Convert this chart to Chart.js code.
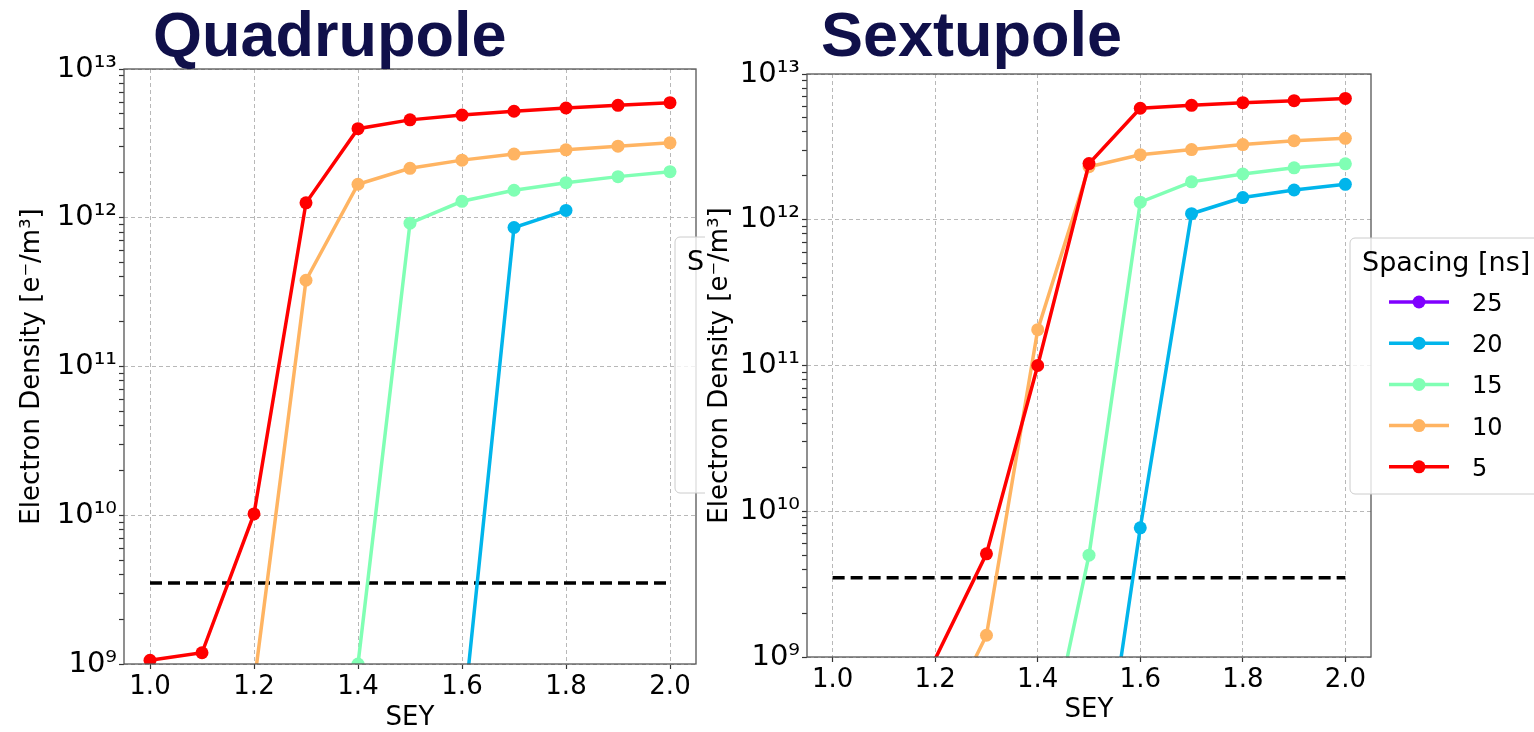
<!DOCTYPE html>
<html>
<head>
<meta charset="utf-8">
<script src="https://cdn.jsdelivr.net/npm/chart.js@4.4.0/dist/chart.umd.min.js"></script>
<style>
  body { margin: 0; background: #fff; width: 1534px; height: 732px; overflow: hidden; position: relative; }
  canvas { position: absolute; top: 0; }
  .title { position: absolute; top: 3px; font: bold 63px "Liberation Sans", Arial, sans-serif; color: #10104a; line-height: 63px; white-space: nowrap; }
</style>
</head>
<body>
<canvas id="quadChart" width="705" height="732" style="left:0px"></canvas>
<canvas id="sextChart" width="829" height="732" style="left:705px"></canvas>
<div class="title" style="left:153px">Quadrupole</div>
<div class="title" style="left:821px">Sextupole</div>
<script>
// x values (SEY) and legend
const sey = [1.0, 1.1, 1.2, 1.3, 1.4, 1.5, 1.6, 1.7, 1.8, 1.9, 2.0];
const spacings = ['25', '20', '15', '10', '5'];
const colors = ['#8000ff', '#01b5eb', '#80ffb4', '#ffb462', '#ff0000'];
const xTicks = [1.0, 1.2, 1.4, 1.6, 1.8, 2.0];
const threshold = 3.5e9;

// Quadrupole electron density [e-/m^3], null = not plotted
const quad25 = [null, null, null, null, null, null, null, null, null, null, null];
const quad20 = [null, null, null, null, null, null, 3.6e8, 8.6e11, 1.12e12, null, null];
const quad15 = [null, null, null, null, 1.0e9, 9.2e11, 1.29e12, 1.53e12, 1.72e12, 1.89e12, 2.04e12];
const quad10 = [null, null, 7.3e8, 3.8e11, 1.68e12, 2.15e12, 2.44e12, 2.68e12, 2.86e12, 3.03e12, 3.19e12];
const quad5 = [1.06e9, 1.19e9, 1.02e10, 1.26e12, 3.97e12, 4.55e12, 4.9e12, 5.2e12, 5.47e12, 5.7e12, 5.94e12];

// Sextupole
const sext25 = [null, null, null, null, null, null, null, null, null, null, null];
const sext20 = [null, null, null, null, null, 3.2e7, 7.7e9, 1.10e12, 1.42e12, 1.60e12, 1.75e12];
const sext15 = [null, null, null, null, 1.1e8, 5.0e9, 1.32e12, 1.82e12, 2.06e12, 2.27e12, 2.42e12];
const sext10 = [null, null, 2.7e8, 1.41e9, 1.76e11, 2.31e12, 2.79e12, 3.03e12, 3.28e12, 3.49e12, 3.62e12];
const sext5 = [null, null, 9.7e8, 5.1e9, 1.0e11, 2.43e12, 5.82e12, 6.1e12, 6.36e12, 6.56e12, 6.8e12];

const xMin = 0.95, xMax = 2.05, yMin = 1e9, yMax = 1e13;
const sup = {'0': '\u2070', '1': '\u00b9', '2': '\u00b2', '3': '\u00b3', '9': '\u2079'};
const FONT = '"DejaVu Sans", sans-serif';

function isDecade(v) {
  const e = Math.round(Math.log10(v));
  return Math.abs(v - Math.pow(10, e)) / v < 1e-6;
}

// matplotlib skips markers whose centre falls outside the axes
function markerRadius(ctx) {
  const p = ctx.raw;
  if (!p || p.y < yMin || p.y > yMax) return 0;
  return 6.5;
}

function makeDatasets(series) {
  const sets = series.map((vals, i) => ({
    label: spacings[i],
    data: sey.map((x, j) => ({x: x, y: vals[j]})).filter(p => p.y !== null),
    borderColor: colors[i],
    backgroundColor: colors[i],
    borderWidth: 3.5,
    pointRadius: markerRadius,
    pointHoverRadius: markerRadius,
    pointBorderWidth: 0,
    order: series.length - i
  }));
  sets.push({
    label: 'threshold',
    data: [{x: 1.0, y: threshold}, {x: 2.0, y: threshold}],
    borderColor: '#000',
    borderWidth: 3.5,
    borderDash: [12, 6],
    pointRadius: 0,
    order: 20
  });
  return sets;
}

const plotBox = {
  id: 'plotBox',
  afterDatasetsDraw(chart) {
    const a = chart.chartArea, ctx = chart.ctx;
    ctx.save();
    ctx.strokeStyle = '#555';
    ctx.lineWidth = 1.3;
    ctx.strokeRect(a.left, a.top, a.right - a.left, a.bottom - a.top);
    ctx.restore();
  }
};

const spacingLegend = {
  id: 'spacingLegend',
  afterDraw(chart, args, opts) {
    const ctx = chart.ctx;
    const x = opts.x, y = opts.y;
    ctx.save();
    ctx.beginPath();
    ctx.roundRect(x, y, 230, 256, 5);
    ctx.fillStyle = 'rgba(255,255,255,0.8)';
    ctx.fill();
    ctx.strokeStyle = '#cccccc';
    ctx.lineWidth = 1;
    ctx.stroke();
    ctx.fillStyle = '#000';
    ctx.textBaseline = 'alphabetic';
    ctx.font = '27px ' + FONT;
    ctx.fillText('Spacing [ns]', x + 12, y + 33);
    const sets = chart.data.datasets.filter(d => spacings.includes(d.label));
    sets.forEach((d, i) => {
      const cy = y + 64 + i * 41.2;
      ctx.strokeStyle = d.borderColor;
      ctx.lineWidth = 3.5;
      ctx.beginPath();
      ctx.moveTo(x + 39, cy);
      ctx.lineTo(x + 99, cy);
      ctx.stroke();
      ctx.fillStyle = d.borderColor;
      ctx.beginPath();
      ctx.arc(x + 69, cy, 6.5, 0, Math.PI * 2);
      ctx.fill();
      ctx.fillStyle = '#000';
      ctx.font = '24px ' + FONT;
      ctx.fillText(d.label, x + 122, cy + 9);
    });
    ctx.restore();
  }
};

function makeChart(id, series, layout, legendPos, yWidth, xHeight) {
  const ctx = document.getElementById(id).getContext('2d');
  return new Chart(ctx, {
    type: 'line',
    data: { datasets: makeDatasets(series) },
    options: {
      responsive: false,
      animation: false,
      layout: { padding: layout },
      plugins: {
        legend: { display: false },
        tooltip: { enabled: false },
        spacingLegend: legendPos
      },
      scales: {
        x: {
          type: 'linear',
          min: xMin,
          max: xMax,
          afterBuildTicks: s => { s.ticks = xTicks.map(v => ({value: v})); },
          afterFit: s => { s.height = xHeight; },
          ticks: {
            color: '#000',
            font: { family: FONT, size: 26 },
            padding: 3,
            maxRotation: 0,
            autoSkip: false,
            callback: v => v.toFixed(1)
          },
          grid: {
            color: '#b8b8b8',
            lineWidth: 1,
            tickLength: 5,
            tickColor: '#333',
            tickWidth: 1.2,
            tickBorderDash: []
          },
          border: { display: false, dash: [4, 3] },
          title: {
            display: true,
            text: 'SEY',
            color: '#000',
            font: { family: FONT, size: 26, lineHeight: 1.05 },
            padding: { top: 0, bottom: 0 }
          }
        },
        y: {
          type: 'logarithmic',
          min: yMin,
          max: yMax,
          afterBuildTicks: s => {
            const t = [];
            for (let e = 9; e <= 13; e++) {
              for (let m = 1; m <= 9; m++) {
                const v = m * Math.pow(10, e);
                if (v <= yMax) t.push({value: v});
              }
            }
            s.ticks = t;
          },
          afterFit: s => { s.width = yWidth; },
          ticks: {
            color: '#000',
            font: { family: FONT, size: 29 },
            padding: 2,
            autoSkip: false,
            callback: v => {
              if (!isDecade(v)) return '';
              const e = String(Math.round(Math.log10(v)));
              return '10' + e.split('').map(c => sup[c]).join('');
            }
          },
          grid: {
            color: c => (c.tick && isDecade(c.tick.value)) ? '#b8b8b8' : 'rgba(0,0,0,0)',
            lineWidth: 1,
            tickLength: 5,
            tickColor: '#333',
            tickWidth: 1.2,
            tickBorderDash: []
          },
          border: { display: false, dash: [4, 3] },
          title: {
            display: true,
            text: 'Electron Density [e\u207b/m\u00b3]',
            color: '#000',
            font: { family: FONT, size: 26 },
            padding: { top: layout.titlePad, bottom: 0 }
          }
        }
      }
    },
    plugins: [plotBox, spacingLegend]
  });
}

makeChart('quadChart', [quad25, quad20, quad15, quad10, quad5],
  { left: 13, top: 69, right: 9, bottom: 0, titlePad: 4 }, { x: 675, y: 237 }, 111, 68);
makeChart('sextChart', [sext25, sext20, sext15, sext10, sext5],
  { left: 0, top: 74, right: 163, bottom: 8, titlePad: 0 }, { x: 645, y: 238 }, 102, 67);
</script>
</body>
</html>
